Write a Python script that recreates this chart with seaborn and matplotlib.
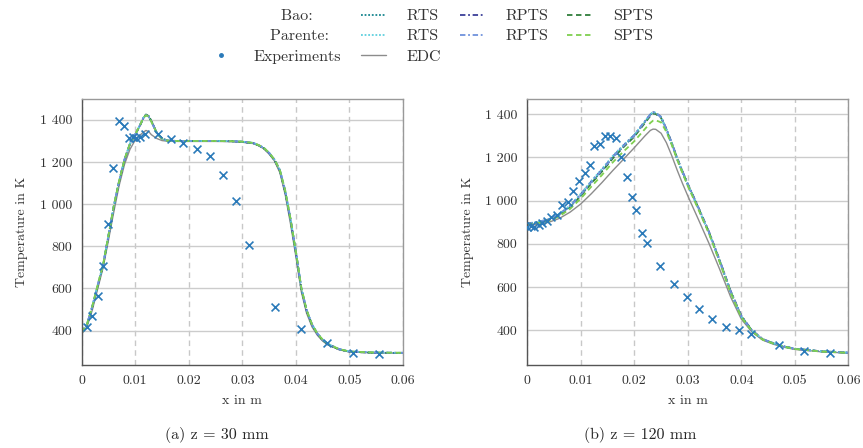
import matplotlib
matplotlib.use("Agg")
import matplotlib.pyplot as plt
from matplotlib.lines import Line2D
from matplotlib.ticker import FixedLocator, FuncFormatter
import seaborn as sns

# ---- data ----
# left panel: z = 30 mm
x_left = [0, 0.001, 0.002, 0.003, 0.004, 0.005, 0.006, 0.007, 0.008, 0.009, 0.010,
          0.011, 0.0115, 0.012, 0.0125, 0.013, 0.014, 0.015, 0.016, 0.018, 0.020,
          0.025, 0.028, 0.030, 0.032, 0.033, 0.034, 0.035, 0.036, 0.037, 0.038,
          0.039, 0.040, 0.041, 0.042, 0.043, 0.044, 0.045, 0.046, 0.048, 0.050,
          0.055, 0.060]
bao_left = [390, 430, 515, 615, 712, 850, 990, 1110, 1212, 1285, 1330, 1380, 1408,
            1425, 1418, 1395, 1340, 1312, 1302, 1300, 1300, 1300, 1299, 1296, 1290,
            1280, 1266, 1242, 1210, 1160, 1060, 925, 770, 600, 495, 428, 385, 355,
            335, 312, 300, 295, 294]
parente_left = [392, 432, 518, 618, 715, 853, 993, 1112, 1214, 1287, 1332, 1382,
                1410, 1422, 1416, 1392, 1338, 1310, 1301, 1300, 1300, 1300, 1299,
                1297, 1291, 1281, 1268, 1244, 1212, 1163, 1065, 930, 775, 605, 498,
                430, 387, 357, 337, 313, 301, 296, 295]
edc_left = [385, 420, 500, 600, 700, 830, 965, 1090, 1190, 1260, 1305, 1330, 1342,
            1350, 1345, 1330, 1312, 1302, 1299, 1298, 1298, 1298, 1297, 1294, 1288,
            1278, 1263, 1238, 1205, 1150, 1045, 905, 750, 585, 482, 418, 378, 350,
            332, 310, 299, 294, 293]
exp_x_left = [0.0009, 0.002, 0.003, 0.004, 0.0049, 0.0058, 0.0069, 0.0079, 0.0089,
              0.0095, 0.0101, 0.0109, 0.0118, 0.0143, 0.0166, 0.019, 0.0215, 0.024,
              0.0264, 0.0288, 0.0313, 0.0361, 0.041, 0.0458, 0.0507, 0.0555]
exp_t_left = [416, 470, 566, 708, 905, 1171, 1395, 1371, 1316, 1318, 1316, 1318,
              1332, 1332, 1308, 1289, 1264, 1229, 1137, 1017, 807, 511, 406, 340,
              296, 289]

# right panel: z = 120 mm
x_right = [0, 0.002, 0.004, 0.006, 0.008, 0.010, 0.012, 0.014, 0.016, 0.018, 0.020,
           0.022, 0.023, 0.0235, 0.024, 0.025, 0.026, 0.027, 0.028, 0.029, 0.030,
           0.032, 0.034, 0.036, 0.038, 0.040, 0.042, 0.044, 0.046, 0.048, 0.050,
           0.055, 0.060]
bao_rts_right = [893, 900, 912, 935, 972, 1025, 1085, 1140, 1200, 1252, 1300, 1365,
                 1397, 1408, 1405, 1385, 1327, 1262, 1192, 1130, 1072, 962, 848, 716,
                 577, 463, 397, 358, 340, 325, 315, 303, 297]
bao_rpts_right = [894, 901, 914, 938, 976, 1030, 1090, 1145, 1205, 1256, 1304, 1368,
                  1399, 1409, 1406, 1388, 1332, 1268, 1198, 1136, 1078, 968, 854, 722,
                  583, 468, 400, 360, 341, 326, 315, 303, 297]
bao_spts_right = [892, 899, 911, 934, 970, 1022, 1081, 1136, 1196, 1248, 1296, 1360,
                  1392, 1403, 1401, 1383, 1328, 1266, 1197, 1135, 1076, 966, 852, 720,
                  581, 466, 399, 359, 340, 325, 315, 303, 297]
par_rts_right = [895, 902, 915, 940, 978, 1032, 1092, 1148, 1208, 1258, 1305, 1368,
                 1400, 1410, 1407, 1387, 1330, 1265, 1196, 1133, 1075, 964, 850, 718,
                 579, 464, 398, 359, 340, 325, 315, 303, 297]
par_rpts_right = [893, 900, 913, 937, 974, 1027, 1087, 1142, 1202, 1253, 1301, 1366,
                  1398, 1408, 1405, 1386, 1330, 1266, 1196, 1134, 1076, 965, 851, 719,
                  580, 465, 398, 359, 340, 325, 315, 303, 297]
par_spts_right = [890, 896, 907, 928, 962, 1010, 1066, 1120, 1178, 1228, 1275, 1332,
                  1360, 1370, 1372, 1362, 1318, 1258, 1190, 1128, 1068, 958, 845, 712,
                  574, 460, 396, 357, 339, 324, 314, 302, 296]
edc_right = [885, 890, 900, 918, 947, 985, 1033, 1085, 1140, 1192, 1245, 1300, 1325,
             1331, 1330, 1312, 1268, 1208, 1142, 1080, 1022, 912, 800, 680, 555, 452,
             392, 355, 336, 322, 312, 301, 295]
exp_x_right = [0, 0.0006, 0.0013, 0.0021, 0.0028, 0.0036, 0.0045, 0.0055, 0.0065,
               0.0077, 0.0086, 0.0097, 0.0107, 0.0117, 0.0125, 0.0135, 0.0145,
               0.0155, 0.0165, 0.0176, 0.0186, 0.0195, 0.0204, 0.0214, 0.0224,
               0.0248, 0.0275, 0.0298, 0.0321, 0.0346, 0.0371, 0.0395, 0.0419,
               0.047, 0.0518, 0.0565]
exp_t_right = [876, 881, 878, 888, 896, 908, 924, 935, 981, 996, 1043, 1093, 1127,
               1166, 1254, 1263, 1297, 1301, 1289, 1204, 1109, 1015, 958, 850, 804,
               696, 616, 554, 497, 451, 414, 403, 383, 334, 303, 295]

x_ticks = [0, 0.01, 0.02, 0.03, 0.04, 0.05, 0.06]
x_tick_labels = ["0", "0.01", "0.02", "0.03", "0.04", "0.05", "0.06"]
y_ticks = [400, 600, 800, 1000, 1200, 1400]

# ---- styles ----
DOT = (0, (1, 1))
DASHDOT = (0, (3, 1.5, 1, 1.5))
DASH = (0, (3, 2))
C_BAO_RTS, C_PAR_RTS = "#17868f", "#5fd0de"
C_BAO_RPTS, C_PAR_RPTS = "#3b3f98", "#6f92dc"
C_BAO_SPTS, C_PAR_SPTS = "#2f7d3a", "#7fcf4f"
C_EXP, C_EDC = "#2a7ab9", "#8c8c8c"

sns.set_theme(style="white")
plt.rcParams["font.family"] = ["cmr10", "DejaVu Serif"]
plt.rcParams["mathtext.fontset"] = "cm"
plt.rcParams["axes.formatter.use_mathtext"] = True
plt.rcParams["axes.unicode_minus"] = False

fig = plt.figure(figsize=(8.63, 4.48), dpi=100)
ax_l = fig.add_axes([0.0947, 0.1853, 0.3723, 0.5931])
ax_r = fig.add_axes([0.6110, 0.1853, 0.3720, 0.5931])


def draw_panel(ax, x, curves, edc, ex, et, ylim):
    for y, col, ls in curves:
        sns.lineplot(x=x, y=y, ax=ax, color=col, linestyle=ls, lw=1.3)
    sns.lineplot(x=x, y=edc, ax=ax, color=C_EDC, lw=1.0, zorder=1)
    sns.scatterplot(x=ex, y=et, ax=ax, marker="x", color=C_EXP, s=32,
                    linewidth=1.2, zorder=5)
    ax.set_xlim(0, 0.06)
    ax.set_ylim(*ylim)
    ax.xaxis.set_major_locator(FixedLocator(x_ticks))
    ax.set_xticklabels(x_tick_labels)
    ax.yaxis.set_major_locator(FixedLocator(y_ticks))
    ax.yaxis.set_major_formatter(FuncFormatter(lambda v, p: f"{int(v):,}".replace(",", " ")))
    ax.grid(axis="y", color="#cccccc", lw=1.0, ls="-", zorder=0)
    ax.grid(axis="x", color="#c8c8c8", lw=1.0, ls=(0, (4, 3)), zorder=0)
    ax.set_axisbelow(True)
    ax.tick_params(direction="inout", length=6, width=0.9, color="#555555",
                   labelsize=10, labelcolor="#333333", pad=4)
    for side in ["left", "bottom"]:
        ax.spines[side].set_color("#555555")
        ax.spines[side].set_linewidth(1.0)
    for side in ["top", "right"]:
        ax.spines[side].set_color("#999999")
        ax.spines[side].set_linewidth(1.0)
    ax.set_xlabel("x in m", fontsize=10, color="#333333", labelpad=6)
    ax.set_ylabel("Temperature in K", fontsize=10, color="#333333", labelpad=8)


left_curves = [
    (bao_left, C_BAO_RTS, DOT), (bao_left, C_BAO_RPTS, DASHDOT), (bao_left, C_BAO_SPTS, DASH),
    (parente_left, C_PAR_RTS, DOT), (parente_left, C_PAR_RPTS, DASHDOT),
    (parente_left, C_PAR_SPTS, DASH),
]
right_curves = [
    (bao_rts_right, C_BAO_RTS, DOT), (bao_rpts_right, C_BAO_RPTS, DASHDOT),
    (bao_spts_right, C_BAO_SPTS, DASH), (par_rts_right, C_PAR_RTS, DOT),
    (par_rpts_right, C_PAR_RPTS, DASHDOT), (par_spts_right, C_PAR_SPTS, DASH),
]
draw_panel(ax_l, x_left, left_curves, edc_left, exp_x_left, exp_t_left, (237, 1498))
draw_panel(ax_r, x_right, right_curves, edc_right, exp_x_right, exp_t_right, (240, 1469))

# captions
fig.text(217 / 863, 1 - 435 / 448, "(a) z = 30 mm", ha="center", va="center", fontsize=11.5)
fig.text(640 / 863, 1 - 435 / 448, "(b) z = 120 mm", ha="center", va="center", fontsize=11.5)

# legend (column-first order, 4 columns)
blank = Line2D([], [], ls="", marker="")
handles = [
    blank, blank,
    Line2D([], [], ls="", marker=".", color=C_EXP, markersize=5),
    Line2D([], [], color=C_BAO_RTS, ls=DOT, lw=1.3),
    Line2D([], [], color=C_PAR_RTS, ls=DOT, lw=1.3),
    Line2D([], [], color=C_EDC, lw=1.0),
    Line2D([], [], color=C_BAO_RPTS, ls=DASHDOT, lw=1.3),
    Line2D([], [], color=C_PAR_RPTS, ls=DASHDOT, lw=1.3),
    Line2D([], [], color=C_BAO_SPTS, ls=DASH, lw=1.3),
    Line2D([], [], color=C_PAR_SPTS, ls=DASH, lw=1.3),
]
labels = ["     Bao:", "   Parente:", "Experiments", "RTS", "RTS", "EDC",
          "RPTS", "RPTS", "SPTS", "SPTS"]
fig.legend(handles, labels, ncol=4, loc="upper center", bbox_to_anchor=(0.499, 1.012),
           frameon=False, fontsize=11.5, handlelength=1.6, handletextpad=1.25,
           columnspacing=1.2, labelspacing=0.38, labelcolor="#333333")

fig.savefig("out.png", dpi=100)
